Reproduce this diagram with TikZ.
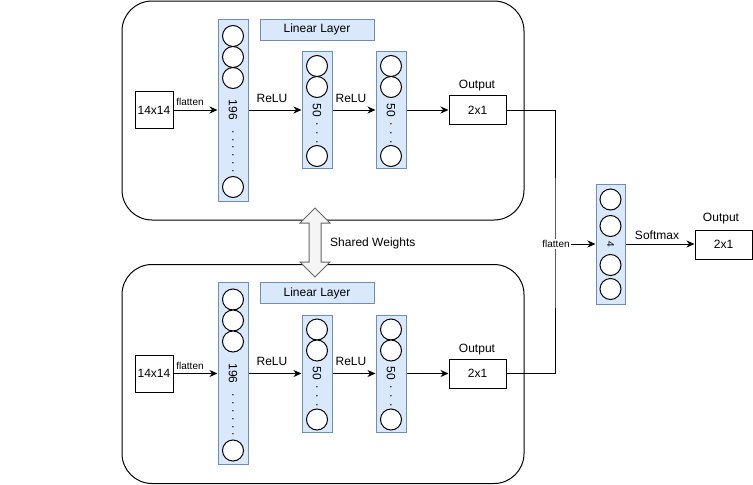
\documentclass[tikz,border=0pt]{standalone}
\usepackage{fontspec}
\setmainfont{Liberation Sans}
\usetikzlibrary{arrows.meta}
\definecolor{colfill}{HTML}{DAE8FC}
\definecolor{coldraw}{HTML}{6C8EBF}
\definecolor{grayfill}{HTML}{F5F5F5}
\definecolor{graydraw}{HTML}{666666}
\tikzset{
  container/.style={draw=black, line width=1pt, rounded corners=30pt, inner sep=0pt},
  plainbox/.style={draw=black, line width=1pt, fill=white, inner sep=0pt, font=\fontsize{12}{14}\selectfont},
  column/.style={draw=coldraw, fill=colfill, line width=1pt, inner sep=0pt, minimum width=30pt},
  neuron/.style={circle, draw=black, fill=white, line width=1pt, inner sep=0pt, minimum size=21pt},
  lbl/.style={inner sep=0pt, font=\fontsize{12}{14}\selectfont},
  smalllbl/.style={inner sep=0pt, font=\fontsize{10}{12}\selectfont},
  vtext/.style={inner sep=0pt, rotate=-90, font=\fontsize{12}{14}\selectfont},
  arr/.style={line width=1pt, -{Stealth[length=8pt,width=7pt,inset=2.5pt]}},
  conn/.style={line width=1pt},
}
\newcommand\mybranch[2]{%
\begin{scope}[shift={(1,#2)}]
  \node[container, minimum width=402pt, minimum height=219pt] (#1box) at (322,110.5) {};
  \node[plainbox, minimum width=38pt, minimum height=37pt] (#1in) at (153,110) {14x14};
  \node[column, minimum height=182pt] (#1ca) at (232,110) {};
  \node[neuron] (#1ca1) at (232,36) {};
  \node[neuron] (#1ca2) at (232,57) {};
  \node[neuron] (#1ca3) at (232,78) {};
  \node[neuron] (#1ca4) at (232,187) {};
  \node[vtext] (#1cat) at (232,110) {196};
  \node[vtext] (#1cad) at (232,151.5) {. . . . . .};
  \node[draw=coldraw, fill=colfill, line width=1pt, inner sep=0pt, minimum width=114pt, minimum height=21pt, font=\fontsize{12}{14}\selectfont] (#1lin) at (316,29.5) {Linear Layer};
  \node[column, minimum height=117pt] (#1cb) at (316,110) {};
  \node[neuron] (#1cb1) at (316,66) {};
  \node[neuron] (#1cb2) at (316,87) {};
  \node[neuron] (#1cb3) at (316,156) {};
  \node[vtext] (#1cbt) at (316,110) {50};
  \node[vtext] (#1cbd) at (316,133) {.\kern5.7pt.\kern5.7pt.};
  \node[column, minimum height=117pt] (#1cc) at (390,110) {};
  \node[neuron] (#1cc1) at (390,66) {};
  \node[neuron] (#1cc2) at (390,87) {};
  \node[neuron] (#1cc3) at (390,156) {};
  \node[vtext] (#1cct) at (390,110) {50};
  \node[vtext] (#1ccd) at (390,133) {.\kern5.7pt.\kern5.7pt.};
  \node[plainbox, minimum width=57pt, minimum height=29pt] (#1out) at (476.5,110) {2x1};
  \node[lbl] (#1outl) at (476,86) {Output};
  \draw[arr] (#1in.east) -- (#1ca.west);
  \draw[arr] (#1ca.east) -- (#1cb.west);
  \draw[arr] (#1cb.east) -- (#1cc.west);
  \draw[arr] (#1cc.east) -- (#1out.west);
  \node[smalllbl] (#1fl) at (189,102) {flatten};
  \node[lbl] (#1r1) at (271,98) {ReLU};
  \node[lbl] (#1r2) at (350,98) {ReLU};
\end{scope}}
\begin{document}
\begin{tikzpicture}[x=1pt, y=-1pt]
\useasboundingbox (0,0) rectangle (753,485);
\mybranch{t}{0}
\mybranch{b}{263.5}
% shared weights double arrow
\draw[draw=graydraw, fill=grayfill, line width=1pt, line join=miter]
  (315,208) -- (330,223) -- (321,223) -- (321,262) -- (330,262) -- (315,277)
  -- (300,262) -- (309,262) -- (309,223) -- (300,223) -- cycle;
\node[lbl, anchor=west] (sw) at (330,243) {Shared Weights};
% merge
\coordinate (jn) at (555,244);
\draw[conn] (tout.east) -| (jn) |- (bout.east);
\node[column, minimum width=29pt, minimum height=120pt] (c4) at (610.5,244) {};
\node[neuron] (c41) at (610.5,199.5) {};
\node[neuron] (c42) at (610.5,226) {};
\node[neuron] (c43) at (610.5,265) {};
\node[neuron] (c44) at (610.5,289) {};
\node[vtext, font=\fontsize{10}{12}\selectfont] (c4t) at (610.5,244) {4};
\node[smalllbl, fill=white, inner sep=1pt] (fl) at (556,244) {flatten};
\draw[arr] (fl.east) -- (c4.west);
\node[plainbox, minimum width=57pt, minimum height=29pt] (fout) at (723.5,244.5) {2x1};
\node[lbl] (foutl) at (721,219) {Output};
\draw[arr] (c4.east) -- (c4.east -| fout.west);
\node[lbl] (sm) at (657,235) {Softmax};
\end{tikzpicture}
\end{document}
